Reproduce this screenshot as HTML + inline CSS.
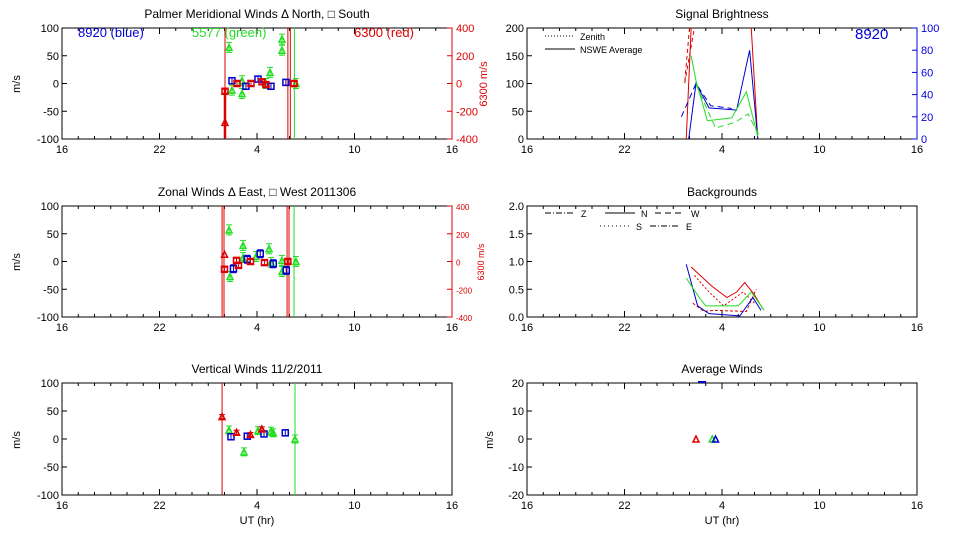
<!DOCTYPE html>
<html><head><meta charset="utf-8"><style>
body{margin:0;background:#fff;}
svg{display:block;font-family:"Liberation Sans",sans-serif;}
</style></head><body>
<svg id="c" width="960" height="540"></svg>
<script>
const xTicks=[16,22,28,34,40];
const xTickLabels=["16","22","4","10","16"];
// top-left meridional (m/s)
const merBlue=[[26.46,5],[27.32,-5],[28.06,8],[28.86,-5],[29.78,2]];
const merRed=[[26.03,-14],[26.77,0],[27.63,0],[28.31,3],[28.55,-2],[30.28,0]];
const merRedTri=[[26.03,-70]];
const merGreen=[[26.28,65],[26.46,-12],[27.08,-18],[27.08,5],[28.55,0],[28.8,20],[29.54,80],[29.54,60],[30.4,0]];
// mid-left zonal
const zonRed=[[26.0,-14],[26.74,2],[26.86,-7],[27.6,0],[28.46,-2],[29.9,0]];
const zonRedTri=[[26.0,13]];
const zonBlue=[[26.55,-13],[27.4,4],[28.2,14],[29.0,-4],[29.8,-16]];
const zonGreen=[[26.28,57],[26.34,-27],[27.14,29],[27.14,7],[27.94,9],[28.74,23],[28.86,-2],[29.54,2],[29.54,-18],[30.4,0]];
// bottom-left vertical
const verRed=[[25.85,40],[26.74,12],[27.6,8],[28.3,18]];
const verGreen=[[26.28,16],[27.2,-23],[28.06,15],[28.86,14],[29.0,11],[30.34,0]];
const verBlue=[[26.4,4],[27.4,5],[28.43,9],[29.74,11]];
// brightness (0-200)
const briRedZen=[[26.0,200],[25.7,100],[26.3,200]];
const briBlueSol=[[25.95,-5],[26.4,100],[27.2,56],[28.9,52],[29.7,160],[30.2,0]];
const briBlueDash=[[25.5,40],[26.4,100],[27.3,60],[28.6,55]];
const briGreenSol=[[26.1,150],[26.4,105],[27.1,33],[28.6,38],[29.5,85],[30.2,5]];
const briGreenDash=[[26.4,98],[27.6,20],[28.8,30],[29.6,45],[30.4,0]];
const briRedSol=[[26.1,200],[25.8,0]];
const briRedSol2=[[29.8,200],[30.2,0]];
// backgrounds (0-2)
const bgRed1=[[26.1,0.9],[27.4,0.55],[28.3,0.35],[28.9,0.45],[29.4,0.62],[30.0,0.4],[30.5,0.15]];
const bgRed2=[[26.3,0.75],[27.2,0.45],[28.1,0.2],[29.3,0.45],[30.0,0.25]];
const bgBlue=[[25.8,0.95],[26.5,0.2],[27.2,0.06],[29.1,0.02],[29.9,0.35],[30.4,0.12]];
const bgGreen=[[25.8,0.7],[26.6,0.35],[27.0,0.2],[29.0,0.2],[29.8,0.45],[30.6,0.12]];
const bgRed3=[[26.2,0.25],[26.9,0.1],[27.5,0.12],[29.5,0.1],[30.1,0.5]];
// average winds
const avgRed=[[26.4,0]];const avgGreen=[[27.4,0]];const avgBlue=[[27.6,0]];

const S=document.getElementById('c');const NS="http://www.w3.org/2000/svg";
function el(t,a,txt){const e=document.createElementNS(NS,t);for(const k in a)e.setAttribute(k,a[k]);if(txt!==undefined)e.textContent=txt;S.appendChild(e);return e;}
function panel(name,x0,x1,y0,y1,ymin,ymax,yt,title,xlab){
 const sx=h=>x0+(h-16)/24*(x1-x0), sy=v=>y1-(v-ymin)/(ymax-ymin)*(y1-y0);
 const r=el('rect',{x:x0,y:y0,width:x1-x0,height:y1-y0,fill:'none',stroke:'#000','stroke-width':1});
 
 for(let h=16;h<=40;h++){const L=(h-16)%6==0?6:3;el('line',{x1:sx(h),x2:sx(h),y1:y1,y2:y1-L,stroke:'#000'});el('line',{x1:sx(h),x2:sx(h),y1:y0,y2:y0+L,stroke:'#000'});}
 xTicks.forEach((t,i)=>{const e=el('text',{x:sx(t),y:y1+14,'font-size':11,'text-anchor':'middle'},xTickLabels[i]);});
 yt.forEach(v=>{el('line',{x1:x0,x2:x0+5,y1:sy(v),y2:sy(v),stroke:'#000'});const e=el('text',{x:x0-3,y:sy(v)+4,'font-size':11,'text-anchor':'end'},String(v));});
 const t=el('text',{x:(x0+x1)/2,y:y0-10,'font-size':12,'text-anchor':'middle'},title);
 if(xlab){const e=el('text',{x:(x0+x1)/2,y:y1+29,'font-size':11,'text-anchor':'middle'},'UT (hr)');}
 return {sx,sy,x0,x1,y0,y1};
}
function mlabel(x,y){const e=el('text',{x:x,y:y,'font-size':11,'text-anchor':'middle',transform:`rotate(-90 ${x} ${y})`},'m/s');}
function pts(p,data,col,sym,err){data.forEach(d=>{const x=p.sx(d[0]),y=p.sy(d[1]);let e;
 if(err){el('line',{x1:x,x2:x,y1:y-err,y2:y+err,stroke:col});el('line',{x1:x-3,x2:x+3,y1:y-err,y2:y-err,stroke:col});el('line',{x1:x-3,x2:x+3,y1:y+err,y2:y+err,stroke:col});}
 if(sym=='sq')e=el('rect',{x:x-3,y:y-3,width:6,height:6,fill:'none',stroke:col,'stroke-width':1.5});
 else e=el('polygon',{points:`${x-3},${y+3} ${x+3},${y+3} ${x},${y-3}`,fill:'none',stroke:col,'stroke-width':1.5});
 });}
function vline(p,h,col,w){const e=el('line',{x1:p.sx(h),x2:p.sx(h),y1:p.y0,y2:p.y1,stroke:col,'stroke-width':w||1});}
function line(p,data,col,dash){const e=el('polyline',{points:data.map(d=>p.sx(d[0])+','+Math.max(p.y0,Math.min(p.y1,p.sy(d[1])))).join(' '),fill:'none',stroke:col,'stroke-dasharray':dash||'none'});}
function rax(p,vals,col,ymin,ymax,fs){vals.forEach(v=>{const y=p.y1-(v-ymin)/(ymax-ymin)*(p.y1-p.y0);el('line',{x1:p.x1-5,x2:p.x1,y1:y,y2:y,stroke:col});const e=el('text',{x:p.x1+4,y:y+4,'font-size':fs,fill:col},String(v));});el('line',{x1:p.x1,x2:p.x1,y1:p.y0,y2:p.y1,stroke:col});}

const yw=[100,50,0,-50,-100];
// Top-left
let p=panel('meridional',62,452,28,139,-100,100,yw,'Palmer Meridional Winds \u0394 North, \u25A1 South');
mlabel(20,84);rax(p,[400,200,0,-200,-400],'#d00',-400,400,11);
{const x=487,y=84;const e=el('text',{x:x,y:y,'font-size':11,fill:'#d00','text-anchor':'middle',transform:`rotate(-90 ${x} ${y})`},'6300 m/s');}
el('text',{x:78,y:37,'font-size':13,fill:'#00d'},'8920 (blue)');el('text',{x:192,y:37,'font-size':13,fill:'#2d2'},'5577 (green)');el('text',{x:354,y:37,'font-size':13,fill:'#d00'},'6300 (red)');
vline(p,26.03,'#d00');vline(p,29.9,'#d00');vline(p,30.05,'#d00');vline(p,30.3,'#2d2');
el('line',{x1:p.sx(26.03),x2:p.sx(26.03),y1:p.sy(-10),y2:p.sy(-98),stroke:'#d00','stroke-width':2.5});
pts(p,merGreen,'#2d2','tri',5);pts(p,merBlue,'#00c','sq',3);pts(p,merRed,'#d00','sq',2);pts(p,merRedTri,'#d00','tri');
// Mid-left
p=panel('zonal',62,452,206,317,-100,100,yw,'Zonal Winds \u0394 East, \u25A1 West 2011306');
mlabel(20,262);rax(p,[400,200,0,-200,-400],'#d00',-400,400,8);
{const x=484,y=262;el('text',{x:x,y:y,'font-size':9,fill:'#d00','text-anchor':'middle',transform:`rotate(-90 ${x} ${y})`},'6300 m/s');}
vline(p,25.85,'#d00');vline(p,25.97,'#d00');vline(p,29.85,'#d00');vline(p,29.97,'#d00');vline(p,30.28,'#2d2');
pts(p,zonGreen,'#2d2','tri',5);pts(p,zonBlue,'#00c','sq',4);pts(p,zonRed,'#d00','sq',2);pts(p,zonRedTri,'#d00','tri');
// Bottom-left
p=panel('vertical',62,452,383,495,-100,100,yw,'Vertical Winds 11/2/2011',true);mlabel(20,440);
vline(p,25.85,'#d00');vline(p,30.34,'#2d2');
pts(p,verGreen,'#2d2','tri',4);pts(p,verBlue,'#00c','sq',3);pts(p,verRed,'#d00','tri',2);
// Top-right
p=panel('brightness',527,917,28,139,0,200,[200,150,100,50,0],'Signal Brightness');
rax(p,[100,80,60,40,20,0],'#00d',0,100,11);
el('text',{x:855,y:39,'font-size':15,fill:'#00d'},'8920');
el('line',{x1:545,x2:575,y1:36,y2:36,stroke:'#000','stroke-dasharray':'1,2'});el('text',{x:580,y:40,'font-size':9},'Zenith');
el('line',{x1:545,x2:575,y1:49,y2:49,stroke:'#000'});el('text',{x:580,y:53,'font-size':9},'NSWE Average');
line(p,briRedSol,'#d00');line(p,briRedSol2,'#d00');line(p,briRedZen,'#d00','4,3');
line(p,briBlueSol,'#00c');line(p,briBlueDash,'#00c','6,4');line(p,briGreenSol,'#2d2');line(p,briGreenDash,'#2d2','6,4');
// Mid-right
p=panel('backgrounds',527,917,206,317,0,2,[2.0,1.5,1.0,0.5,0.0].map(v=>v.toFixed(1)).map(Number),'Backgrounds');
[...S.querySelectorAll('text')].slice(-6).forEach(t=>{if(/^[0-9.]+$/.test(t.textContent))t.textContent=Number(t.textContent).toFixed(1);});
const lg=[[545,213,'6,2,1,2','Z'],[605,213,'none','N'],[655,213,'6,4','W'],[600,226,'1,3','S'],[650,226,'6,2,1,2','E']];
lg.forEach(l=>{el('line',{x1:l[0],x2:l[0]+30,y1:l[1],y2:l[1],stroke:'#000','stroke-dasharray':l[2]});el('text',{x:l[0]+36,y:l[1]+4,'font-size':9},l[3]);});
line(p,bgRed1,'#d00');line(p,bgRed2,'#d00','2,2');line(p,bgRed3,'#d00','3,2');line(p,bgBlue,'#00c');line(p,bgGreen,'#2d2');
// Bottom-right
p=panel('average-winds',527,917,383,495,-20,20,[20,10,0,-10,-20],'Average Winds',true);mlabel(493,440);
pts(p,avgRed,'#d00','tri');pts(p,avgGreen,'#2d2','tri');pts(p,avgBlue,'#00c','tri');
el('line',{x1:698,x2:706,y1:382,y2:382,stroke:'#00c','stroke-width':2});
</script></body></html>
